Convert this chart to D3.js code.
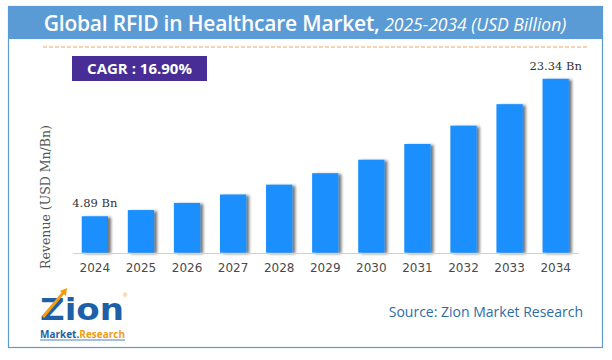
<!DOCTYPE html>
<html><head><meta charset="utf-8">
<script src="https://cdn.jsdelivr.net/npm/d3@7"></script>
<style>body{margin:0;background:#fff}svg{display:block}</style>
</head><body><svg id="c" width="612" height="360"></svg>
<script>
const years = ["2024","2025","2026","2027","2028","2029","2030","2031","2032","2033","2034"];
const revenue = [4.89,5.72,6.68,7.81,9.13,10.67,12.48,14.59,17.05,19.93,23.34];
const valueLabels = {"2024":"4.89 Bn","2034":"23.34 Bn"};
const titleMain = "Global RFID in Healthcare Market,";
const titleSub = " 2025-2034 (USD Billion)";
const cagrText = "CAGR : 16.90%";
const yLabel = "Revenue (USD Mn/Bn)";
const sourceText = "Source: Zion Market Research";

const svg = d3.select("#c");
const defs = svg.append("defs");
const f = defs.append("filter").attr("id","sh").attr("x","-20%").attr("y","-10%").attr("width","160%").attr("height","120%");
f.append("feGaussianBlur").attr("in","SourceAlpha").attr("stdDeviation",1.6).attr("result","b");
f.append("feOffset").attr("in","b").attr("dx",3).attr("dy",1).attr("result","o");
f.append("feComponentTransfer").attr("in","o").attr("result","o2").append("feFuncA").attr("type","linear").attr("slope",0.55);
const m = f.append("feMerge"); m.append("feMergeNode").attr("in","o2"); m.append("feMergeNode").attr("in","SourceGraphic");

// frame
svg.append("rect").attr("x",8.5).attr("y",6.5).attr("width",594).attr("height",341).attr("fill","#fff").attr("stroke","#5b9bd5").attr("stroke-width",1.2);
svg.append("rect").attr("x",8).attr("y",6).attr("width",595).attr("height",33).attr("fill","#5b9bd5");
const t = svg.append("text").attr("x",305).attr("y",30.5).attr("text-anchor","middle").attr("fill","#fff").attr("font-family","'Open Sans','Noto Sans',sans-serif");
t.append("tspan").attr("font-size",21).attr("font-weight",600).attr("letter-spacing",-0.2).text(titleMain);
t.append("tspan").attr("font-size",17.5).attr("font-style","italic").text(titleSub);

svg.append("line").attr("x1",43).attr("x2",587).attr("y1",47).attr("y2",47).attr("stroke","#f4a460").attr("stroke-width",1).attr("stroke-dasharray","4,2");

svg.append("rect").attr("x",72).attr("y",56).attr("width",135).attr("height",25).attr("fill","#482d96");
svg.append("text").attr("x",139.5).attr("y",74).attr("text-anchor","middle").attr("fill","#fff").attr("font-family","'Open Sans',sans-serif").attr("font-weight",700).attr("font-size",15).text(cagrText);

const x = d3.scaleBand().domain(years).range([72.5,578]).paddingInner(0.43).paddingOuter(0.2);
const y = d3.scaleLinear().domain([0,25]).range([252.7,66.4]);

svg.append("g").selectAll("rect").data(years).join("rect")
  .attr("x",d=>x(d)).attr("width",x.bandwidth())
  .attr("y",(d,i)=>y(revenue[i])).attr("height",(d,i)=>y(0)-y(revenue[i]))
  .attr("fill","#1a8fff").attr("filter","url(#sh)");

const ax = svg.append("g").attr("transform","translate(0,253)").call(d3.axisBottom(x).tickSize(0).tickPadding(10));
ax.select(".domain").attr("stroke","#d0d0d0").attr("stroke-width",1.2);
ax.selectAll("text").attr("font-family","'DejaVu Sans',sans-serif").attr("font-size",12).attr("fill","#4a4a4a");

svg.append("g").selectAll("text").data(years.filter(d=>valueLabels[d])).join("text")
  .attr("x",d=>x(d)+x.bandwidth()/2).attr("y",d=>y(revenue[years.indexOf(d)])-9)
  .attr("text-anchor","middle").attr("font-family","'DejaVu Serif',serif").attr("font-size",11.5).attr("fill","#333")
  .text(d=>valueLabels[d]);

svg.append("text").attr("transform","translate(50,197) rotate(-90)").attr("text-anchor","middle")
  .attr("font-family","'DejaVu Serif',serif").attr("font-size",12.5).attr("fill","#555").text(yLabel);

svg.append("text").attr("x",583).attr("y",317).attr("text-anchor","end").attr("fill","#2e6da4")
  .attr("font-family","'Open Sans',sans-serif").attr("font-size",14).text(sourceText);

// logo
const lg = svg.append("g");
lg.append("text").attr("x",40).attr("y",320).attr("font-family","'DejaVu Sans',sans-serif").attr("font-weight",900).attr("font-size",31).attr("fill","#1f5fa8")
  .attr("textLength",84).attr("lengthAdjust","spacingAndGlyphs").text("Zion");
lg.append("path").attr("d","M43 317 L64 292").attr("stroke","#f39c12").attr("stroke-width",3);
lg.append("path").attr("d","M60 291 L67 288 L66 296 Z").attr("fill","#f39c12");
lg.append("text").attr("x",123).attr("y",297).attr("font-family","sans-serif").attr("font-size",6).attr("fill","#f39c12").text("®");
const l2 = lg.append("text").attr("x",40).attr("y",338).attr("font-family","'Open Sans',sans-serif").attr("font-weight",700).attr("font-size",10)
  .attr("textLength",85).attr("lengthAdjust","spacingAndGlyphs");
l2.append("tspan").attr("fill","#1f5fa8").text("Market.");
l2.append("tspan").attr("fill","#f39c12").text("Research");
lg.append("line").attr("x1",40).attr("x2",125).attr("y1",340).attr("y2",340).attr("stroke","#1f5fa8").attr("stroke-width",0.8);
</script></body></html>
